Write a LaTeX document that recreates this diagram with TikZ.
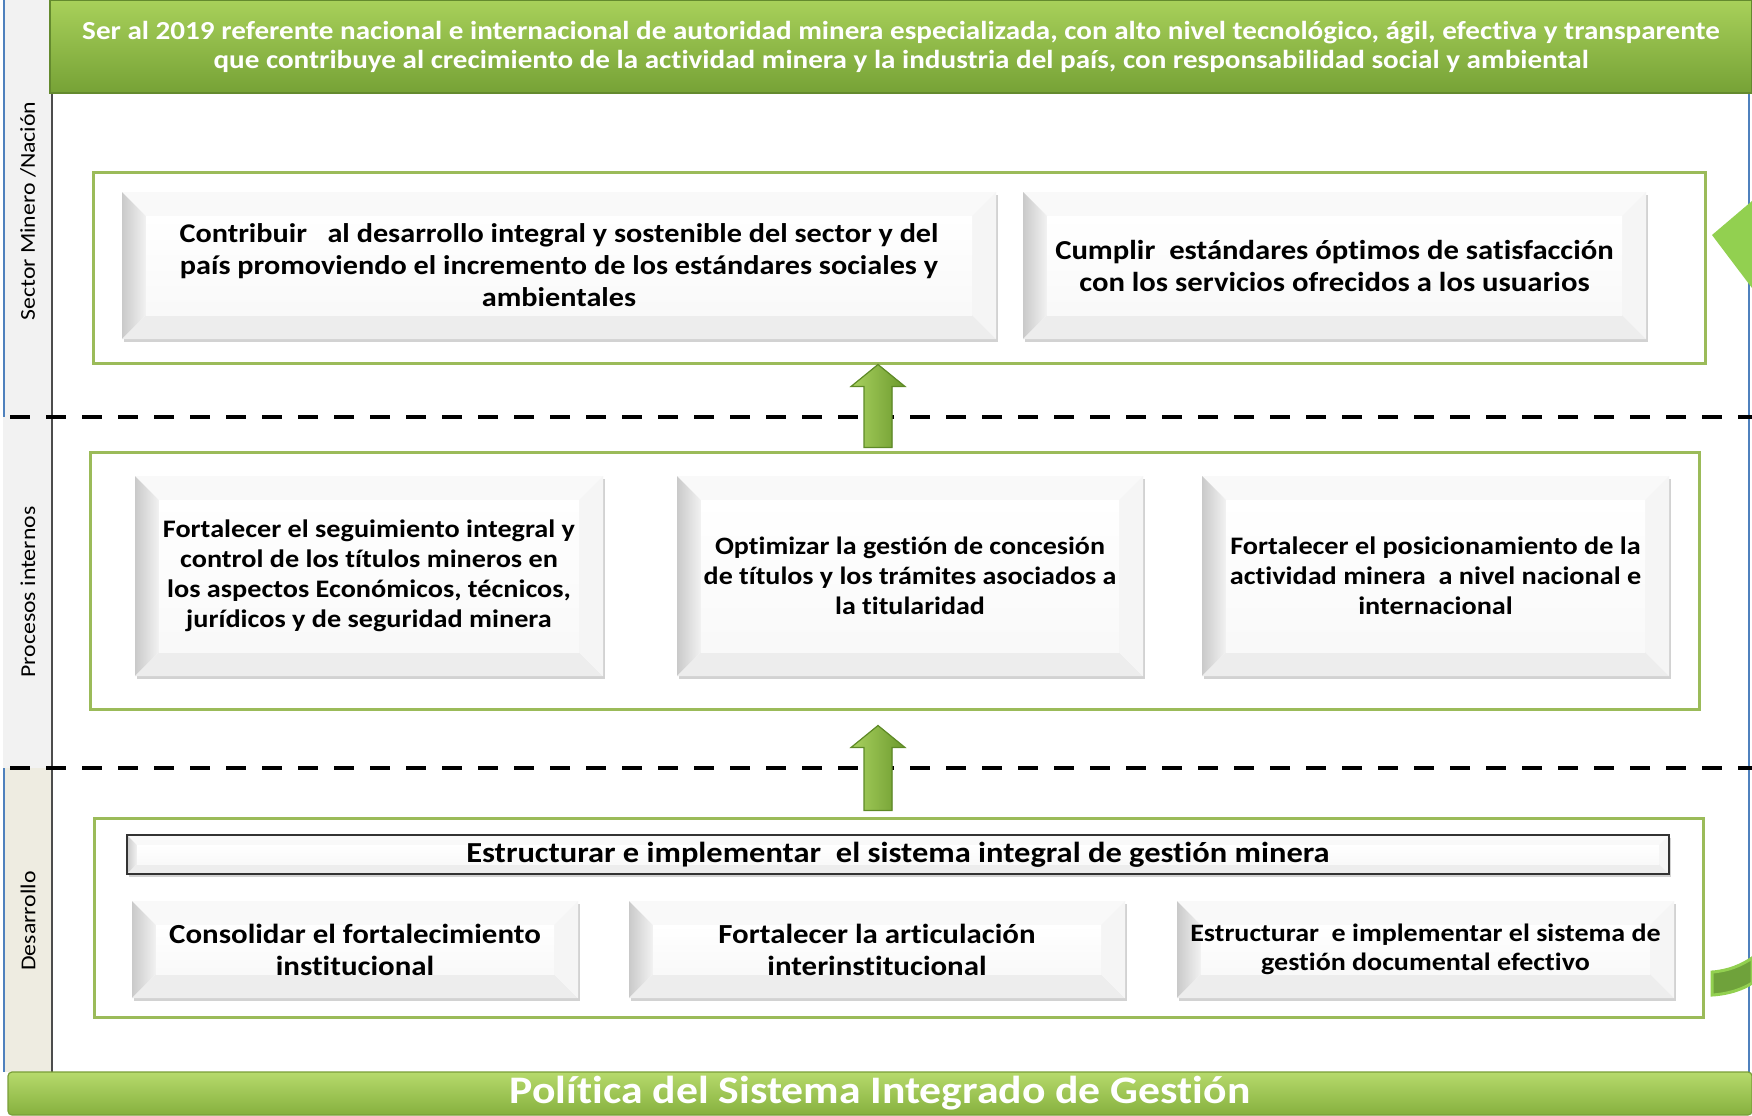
\documentclass[tikz,border=0pt]{standalone}
\usepackage{fontspec}
\setmainfont{Carlito}[FakeStretch=1.12, Ligatures=NoCommon]
\usetikzlibrary{positioning,calc,shadows}

\definecolor{framegreen}{HTML}{9BBB59}
\definecolor{bantop}{HTML}{A8D05A}
\definecolor{banbot}{HTML}{76A236}
\definecolor{foottop}{HTML}{B6DA6C}
\definecolor{footbot}{HTML}{86B03E}
\definecolor{arrowlight}{HTML}{A9D161}
\definecolor{arrowdark}{HTML}{6C9A2C}
\definecolor{arrowedge}{HTML}{5E8A26}
\definecolor{brightgreen}{HTML}{92D050}
\definecolor{bandgreen}{HTML}{6FA23B}
\definecolor{lanegray}{HTML}{F2F2F2}
\definecolor{lanebeige}{HTML}{EEECE1}
\definecolor{laneblue}{HTML}{4F81BD}

\tikzset{
  bevel/.style={path picture={
    \fill[gray!5] (path picture bounding box.north west) -- (path picture bounding box.north east)
      -- ([xshift=-#1,yshift=-#1]path picture bounding box.north east)
      -- ([xshift=#1,yshift=-#1]path picture bounding box.north west) -- cycle;
    \fill[left color=gray!42, right color=gray!10] (path picture bounding box.north west)
      -- ([xshift=#1,yshift=-#1]path picture bounding box.north west)
      -- ([xshift=#1,yshift=#1]path picture bounding box.south west)
      -- (path picture bounding box.south west) -- cycle;
    \fill[gray!14] (path picture bounding box.south west)
      -- ([xshift=#1,yshift=#1]path picture bounding box.south west)
      -- ([xshift=-#1,yshift=#1]path picture bounding box.south east)
      -- (path picture bounding box.south east) -- cycle;
    \fill[gray!8] (path picture bounding box.north east)
      -- ([xshift=-#1,yshift=-#1]path picture bounding box.north east)
      -- ([xshift=-#1,yshift=#1]path picture bounding box.south east)
      -- (path picture bounding box.south east) -- cycle;
    \fill[top color=white, bottom color=gray!5] ([xshift=#1,yshift=-#1]path picture bounding box.north west)
      rectangle ([xshift=-#1,yshift=#1]path picture bounding box.south east);
  }},
  goal/.style={fill=white, inner sep=1pt, align=center, bevel=12pt,
    drop shadow={shadow xshift=0.8pt, shadow yshift=-1.3pt, opacity=0.35}},
  group/.style={draw=framegreen, line width=1.5pt, fill=white, inner sep=0pt},
  banner/.style={top color=bantop, bottom color=banbot, draw=banbot!85!black, line width=0.6pt,
    text=white, align=center, inner sep=0pt},
  footer/.style={top color=foottop, bottom color=footbot, draw=footbot!90!black, line width=0.6pt,
    text=white, inner sep=0pt, rounded corners=2pt},
  lane/.style={rotate=90, font=\fontsize{10.6}{12}\selectfont},
  sepline/.style={dashed, dash pattern=on 10pt off 8pt, line width=2pt},
  uparrow/.style={left color=arrowlight, right color=arrowdark, draw=arrowedge, line width=0.6pt},
}

\begin{document}
\begin{tikzpicture}[x=0.5pt, y=-0.5pt]
	\useasboundingbox (0,0) rectangle (1752,1115);
	\clip (0,0) rectangle (1752,1115);
	% lanes on the left
	\fill[lanegray] (3,0) rectangle (52,768);
	\fill[lanebeige] (3,768) rectangle (52,1072);
	\draw[laneblue, line width=1pt] (3.5,0) -- (3.5,417);
	\draw[laneblue, line width=1pt] (3.5,768) -- (3.5,1072);
	\draw[laneblue, line width=1pt] (1749,90) -- (1749,1072);
	\draw[black!70, line width=0.6pt] (52,0) -- (52,1072);
	\node[lane] (lsector) at (28,211) {Sector Minero /Nación};
	\node[lane] (lprocesos) at (28,592) {Procesos internos};
	\node[lane] (ldesarrollo) at (28,921) {Desarrollo};
	% vision
	\node[banner, minimum width=851pt, minimum height=46.5pt, font=\bfseries\fontsize{13}{14.5}\selectfont] (vision) at (901,46.5)
		{Ser al 2019 referente nacional e internacional de autoridad minera especializada, con alto nivel tecnológico, ágil, efectiva y transparente\\
		 que contribuye al crecimiento de la actividad minera y la industria del país, con responsabilidad social y ambiental};
	\draw[laneblue, line width=0.8pt] (vision.north west) -- (vision.north east);
	% separators
	\draw[sepline] (10,417) -- (1752,417);
	\draw[sepline] (10,768) -- (1752,768);
	% sector / nacion
	\node[group, minimum width=806pt, minimum height=95.5pt] (g1) at (899,267.5) {};
	\node[goal, minimum width=437pt, minimum height=73.5pt, font=\bfseries\fontsize{13.5}{16}\selectfont] (contribuir) at (559,265.5)
		{Contribuir\ \ \ al desarrollo integral y sostenible del sector y del\\ país promoviendo el incremento de los estándares sociales y\\ ambientales};
	\node[goal, minimum width=311.5pt, minimum height=73.5pt, font=\bfseries\fontsize{13.7}{16}\selectfont] (cumplir) at (1334.5,265.5)
		{Cumplir\ \ estándares óptimos de satisfacción\\ con los servicios ofrecidos a los usuarios};
	% procesos internos
	\node[group, minimum width=804.5pt, minimum height=128.5pt] (g2) at (894.5,580.5) {};
	\node[goal, minimum width=234pt, minimum height=100pt, font=\bfseries\fontsize{12.6}{15}\selectfont] (seguimiento) at (369,576)
		{Fortalecer el seguimiento integral y\\ control de los títulos mineros en\\ los aspectos Económicos, técnicos,\\ jurídicos y de seguridad minera};
	\node[goal, minimum width=233pt, minimum height=100pt, font=\bfseries\fontsize{12.5}{15}\selectfont] (optimizar) at (910,576)
		{Optimizar la gestión de concesión\\ de títulos y los trámites asociados a\\ la titularidad};
	\node[goal, minimum width=233.5pt, minimum height=100pt, font=\bfseries\fontsize{12.6}{15}\selectfont] (posicion) at (1435.5,576)
		{Fortalecer el posicionamiento de la\\ actividad minera\ \ a nivel nacional e\\ internacional};
	% desarrollo
	\node[group, minimum width=804.5pt, minimum height=99.5pt] (g3) at (898.5,917.5) {};
	\node[goal, bevel=5pt, draw=black!80, line width=1pt, minimum width=771pt, minimum height=19.5pt, inner sep=0pt, font=\bfseries\fontsize{14.5}{16}\selectfont] (sistema) at (898,854.5)
		{Estructurar e implementar\ \ el sistema integral de gestión minera};
	\node[goal, minimum width=223pt, minimum height=48.5pt, font=\bfseries\fontsize{13.8}{16}\selectfont] (consolidar) at (355,949.5)
		{Consolidar el fortalecimiento\\ institucional};
	\node[goal, minimum width=248pt, minimum height=48.5pt, font=\bfseries\fontsize{13.8}{16}\selectfont] (articular) at (877,949.5)
		{Fortalecer la articulación\\ interinstitucional};
	\node[goal, minimum width=248.5pt, minimum height=48.5pt, font=\bfseries\fontsize{12.5}{14.5}\selectfont] (documental) at (1425.5,949.5)
		{Estructurar\ \ e implementar el sistema de\\ gestión documental efectivo};
	% arrows between levels
	\coordinate (ax) at (878,0);
	\filldraw[uparrow] let \p1=([yshift=1.5pt]g2.north -| ax), \p2=(g1.south -| ax) in
		({\x1-7pt},\y1) -- ({\x1-7pt},{\y2-11pt}) -- ({\x1-13.5pt},{\y2-11pt}) -- (\x2,\y2)
		-- ({\x1+13.5pt},{\y2-11pt}) -- ({\x1+7pt},{\y2-11pt}) -- ({\x1+7pt},\y1) -- cycle;
	\filldraw[uparrow] let \p1=([yshift=3pt]g3.north -| ax), \p2=([yshift=-7.5pt]g2.south -| ax) in
		({\x1-7pt},\y1) -- ({\x1-7pt},{\y2-11pt}) -- ({\x1-13.5pt},{\y2-11pt}) -- (\x2,\y2)
		-- ({\x1+13.5pt},{\y2-11pt}) -- ({\x1+7pt},{\y2-11pt}) -- ({\x1+7pt},\y1) -- cycle;
	% cut-off cycle arrow at the right edge
	\fill[brightgreen] (1712,235) -- (1752,201) -- (1752,288) -- cycle;
	\filldraw[fill=bandgreen, draw=brightgreen, line width=1.5pt] (1712,972) -- (1712,995)
		.. controls (1730,994) and (1745,988) .. (1752,983) -- (1752,958)
		.. controls (1742,965) and (1728,971) .. (1712,972) -- cycle;
	% policy
	\node[footer, minimum width=872pt, minimum height=21.5pt, font=\bfseries\fontsize{19.5}{22}\selectfont] (policy) at (880,1093.5)
		{Política del Sistema Integrado de Gestión};
\end{tikzpicture}
\end{document}
